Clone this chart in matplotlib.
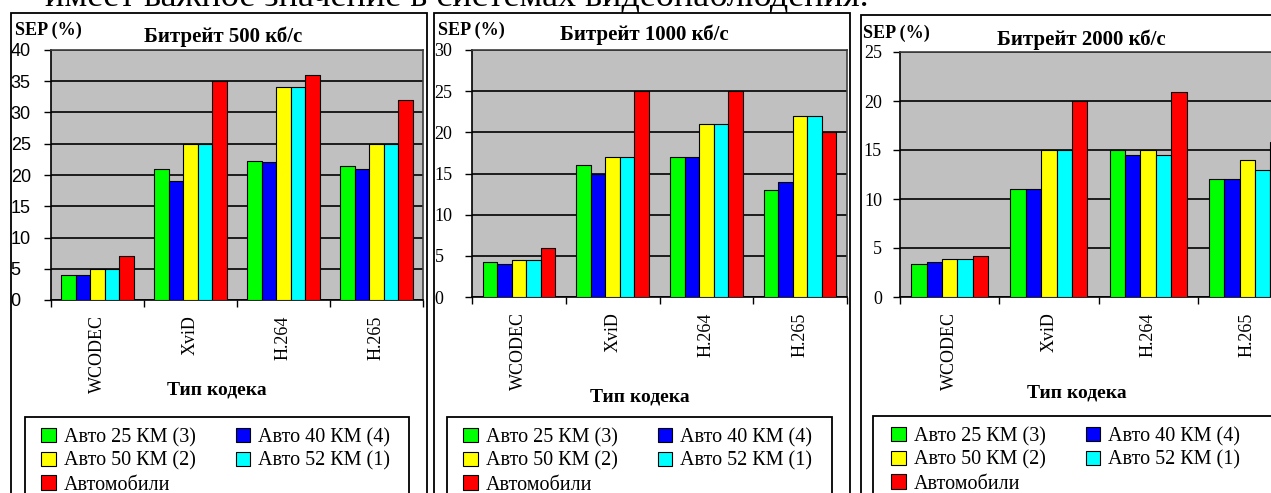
import numpy as np
import matplotlib
matplotlib.use('Agg')
import matplotlib.pyplot as plt
from matplotlib.patches import Rectangle

# data
codecs = ['WCODEC', 'XviD', 'H.264', 'H.265']
series = ['Авто 25 КМ (3)', 'Авто 40 КМ (4)', 'Авто 50 КМ (2)', 'Авто 52 КМ (1)', 'Автомобили']
colors = ['#00FF00', '#0000FF', '#FFFF00', '#00FFFF', '#FF0000']

titles = ['Битрейт 500 кб/с', 'Битрейт 1000 кб/с', 'Битрейт 2000 кб/с']
ymax = [40, 30, 25]

sep_500 = [[4, 21, 22.3, 21.4],
           [4, 19, 22, 21],
           [5, 25, 34, 25],
           [5, 25, 34, 25],
           [7, 35, 36, 32]]
sep_1000 = [[4.2, 16, 17, 13],
            [4, 15, 17, 14],
            [4.5, 17, 21, 22],
            [4.5, 17, 21, 22],
            [6, 25, 25, 20]]
sep_2000 = [[3.4, 11, 15, 12],
            [3.6, 11, 14.5, 12],
            [3.9, 15, 15, 14],
            [3.9, 15, 14.5, 13],
            [4.2, 20, 20.9, 15.8]]

W, H = 1271, 493
fig = plt.figure(figsize=(W / 100, H / 100), dpi=100)
serif = 'Liberation Serif'
sans = 'Liberation Sans'

def fx(x):
    return x / W

def fy(y):
    return 1 - y / H

def frame(l, t, r, b):
    fig.add_artist(Rectangle((fx(l), fy(b)), fx(r - l), fy(t) - fy(b),
                             transform=fig.transFigure, fill=False,
                             edgecolor='black', lw=1.3))

# text line of the page above the charts (mostly cut off)
fig.text(fx(45), fy(6), 'имеет важное значение в системах видеонаблюдения.',
         family=serif, fontsize=26, va='baseline', ha='left')

# pixel layout of the three panels
axes_px = [(51, 50, 423, 300), (472, 50, 847, 297), (900, 52, 1297, 297)]
frames_px = [(11, 13, 427, 520), (434, 13, 850, 520), (861, 15, 1300, 520)]
legbox_px = [(25, 417, 409), (447, 417, 832), (873, 416, 1300)]
legpos_px = [(41, 428), (463, 428), (891, 427)]
sep_px = [(15, 30), (438, 30), (863, 33)]
title_px = [(223, 37), (644, 35), (1081, 40)]
xlab_px = [(217, 390), (640, 397), (1077, 393)]

data = [sep_500, sep_1000, sep_2000]
x = np.arange(len(codecs))
bw = 0.155

for p in range(3):
    l, t, r, b = axes_px[p]
    frame(*frames_px[p])

    ax = fig.add_axes([fx(l), fy(b), fx(r - l), fy(t) - fy(b)])
    ax.set_facecolor('#C0C0C0')
    handles = []
    for i in range(5):
        h = ax.bar(x + (i - 2) * bw, data[p][i], bw, color=colors[i],
                   edgecolor='black', lw=0.8, zorder=3, label=series[i])
        handles.append(h)

    ax.set_xlim(-0.5, len(codecs) - 0.5)
    ax.set_ylim(0, ymax[p])
    ax.yaxis.grid(True, color='black', lw=1.2, zorder=1)
    ax.set_axisbelow(True)
    for s in ax.spines.values():
        s.set_color('#404040')
        s.set_linewidth(1.2)
    ax.spines['left'].set_color('black')
    ax.spines['bottom'].set_color('black')

    ax.set_xticks(x, codecs, rotation=90, family=serif, fontsize=13, va='top')
    ax.set_xticks(np.arange(len(codecs) + 1) - 0.5, minor=True)
    ax.tick_params(axis='x', which='major', length=0, pad=11)
    ax.tick_params(axis='x', which='minor', length=5, width=1, direction='out')

    yt = np.arange(0, ymax[p] + 1, 5)
    if p == 0:
        ax.set_yticks(yt, [str(v) for v in yt], family=sans, fontsize=13, ha='left')
        ax.tick_params(axis='y', length=5, width=1, pad=24)
    elif p == 1:
        ax.set_yticks(yt, [str(v) for v in yt], family=serif, fontsize=13, ha='left')
        ax.tick_params(axis='y', length=5, width=1, pad=22)
    else:
        ax.set_yticks(yt, [str(v) for v in yt], family=serif, fontsize=13, ha='right')
        ax.tick_params(axis='y', length=5, width=1, pad=8)

    fig.text(fx(sep_px[p][0]), fy(sep_px[p][1]), 'SEP (%)', family=serif,
             fontweight='bold', fontsize=13, ha='left', va='center')
    fig.text(fx(title_px[p][0]), fy(title_px[p][1]), titles[p], family=serif,
             fontweight='bold', fontsize=15, ha='center', va='center')
    fig.text(fx(xlab_px[p][0]), fy(xlab_px[p][1]), 'Тип кодека', family=serif,
             fontweight='bold', fontsize=14, ha='center', va='center')

    bl, bt, br = legbox_px[p]
    frame(bl, bt, br, 520)
    order = [0, 2, 4, 1, 3]
    lx, ly = legpos_px[p]
    fig.legend([handles[k] for k in order], [series[k] for k in order],
               ncol=2, loc='upper left',
               bbox_to_anchor=(fx(lx), fy(ly)),
               bbox_transform=fig.transFigure, frameon=False,
               borderaxespad=0, borderpad=0, prop={'family': serif, 'size': 14.5},
               handlelength=0.72, handleheight=0.72, handletextpad=0.4,
               labelspacing=0.22, columnspacing=2.0)

fig.savefig('out.png', dpi=100)
